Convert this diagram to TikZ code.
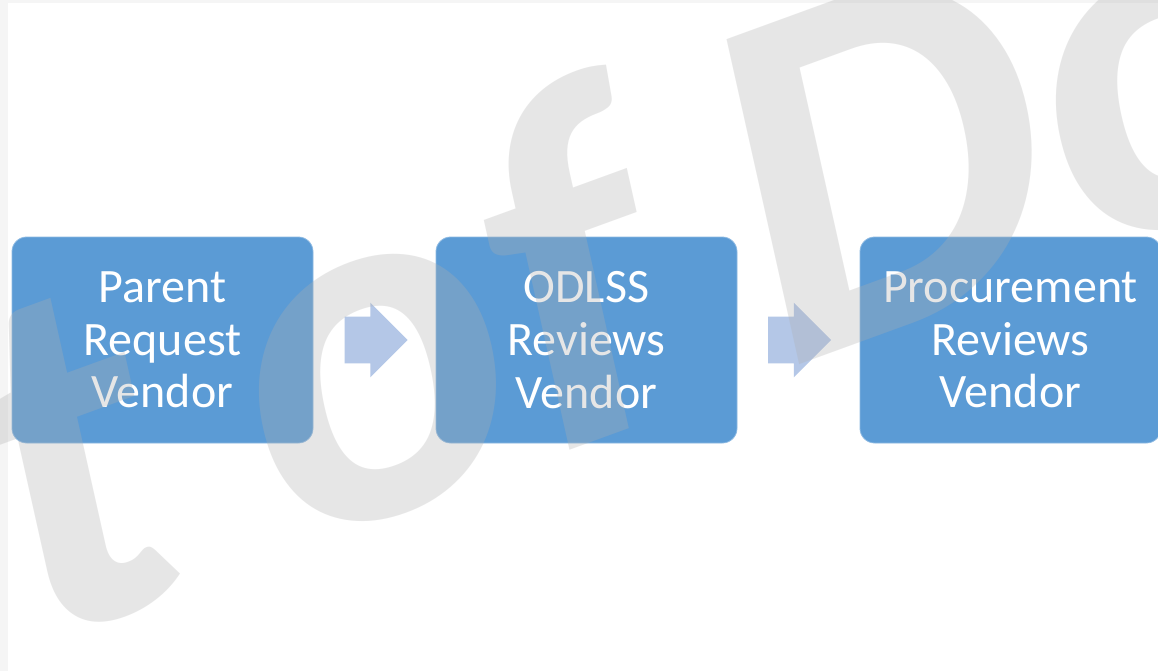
\documentclass[tikz,border=0pt]{standalone}
\usepackage{fontspec}
\setmainfont{Carlito}
\usepackage{tikz}
\usetikzlibrary{calc}
\usetikzlibrary{shapes.arrows}
\definecolor{stageblue}{RGB}{91,155,213}
\definecolor{flowblue}{RGB}{180,199,231}
\definecolor{wmgray}{RGB}{175,175,175}
\definecolor{edgegray}{RGB}{245,245,245}
\tikzset{
  stage/.style={fill=stageblue, draw=stageblue!70!white, line width=0.6pt,
    rounded corners=11pt, minimum width=225.75pt, minimum height=154.5pt,
    inner sep=0pt, align=center, text=white,
    font=\fontsize{36}{39.5}\selectfont},
  flow/.style={single arrow, fill=flowblue, draw=none, anchor=tail,
    inner xsep=0pt, inner ysep=17.25pt, minimum height=47.25pt,
    single arrow head extend=10.5pt},
  wmark/.style={inner sep=0pt, anchor=base west, rotate=20, xslant=0.13,
    transform shape, text=wmgray, text opacity=0.3,
    font=\bfseries\fontsize{382}{382}\selectfont}
}
\newcommand{\stagebox}[3]{\node[stage] (#1) at (#2) {#3};}

\begin{document}
\begin{tikzpicture}[x=0.75pt, y=-0.75pt]
            % frame
            \useasboundingbox (0,0) rectangle (1158,671);
            \fill[edgegray] (0,0) rectangle (1158,671);
            \fill[white] (8,3) rectangle (1158,671);
            % stages
            \stagebox{parent}{162.5,340}{Parent\\Request\\Vendor}
            \stagebox{odlss}{586.5,340}{ODLSS\\Reviews\\Vendor}
            \stagebox{procure}{1010.5,340}{Procurement\\Reviews\\Vendor}
            % arrows between stages
            \node[flow] (flowa) at ($(parent.east)+(31,0)$) {};
            \node[flow] (flowb) at ($(odlss.east)+(30.5,0)$) {};
            % watermark
            \begin{scope}
                \clip (0,0) rectangle (1158,671);
                \node[wmark] (wmone) at (25,650) {t};
                \node[wmark] (wmtwo) at (276,557) {of};
                \node[wmark] (wmthree) at (772,375) {Do};
            \end{scope}
        \end{tikzpicture}
\end{document}
